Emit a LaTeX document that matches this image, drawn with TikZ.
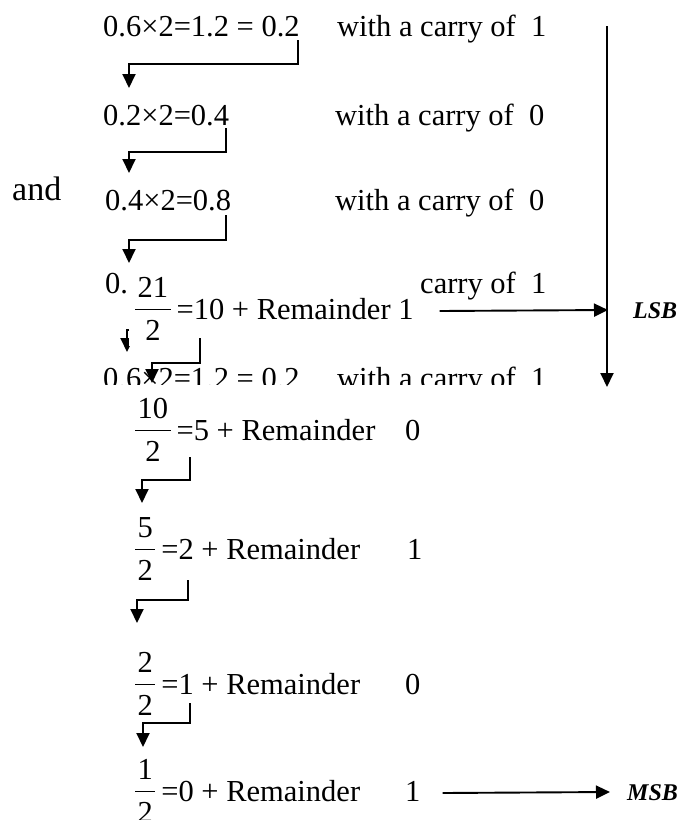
\documentclass[tikz,border=0pt]{standalone}
\usepackage{fontspec}
\setmainfont{Liberation Serif}
\usetikzlibrary{calc,arrows.meta}

\newsavebox\frcnum
\newsavebox\frcden
\newlength\frcw
% stacked fraction in text font
\newcommand{\frc}[2]{%
  \sbox\frcnum{#1}\sbox\frcden{#2}%
  \setlength\frcw{\wd\frcnum}%
  \ifdim\wd\frcden>\frcw \setlength\frcw{\wd\frcden}\fi
  \addtolength\frcw{5pt}%
  \rlap{\makebox[\frcw]{\raisebox{22pt}{\usebox\frcnum}}}%
  \rlap{\makebox[\frcw]{\raisebox{-21pt}{\usebox\frcden}}}%
  \rule[9pt]{\frcw}{1.3pt}\kern6pt}

\begin{document}
\begin{tikzpicture}[
    x=1pt,
    y=-1pt,
    font=\fontsize{30.5}{36}\selectfont,
    >={Triangle[length=14pt,width=13pt]},
    line/.style={
        anchor=base west,
        inner sep=0pt
    },
    paper/.style={
        fill=white,
        inner sep=0pt,
        anchor=north west
    },
    hook/.style={
        ->,
        line width=1.9pt
    },
    arrow/.style={
        ->,
        line width=1.9pt
    },
    tag/.style={
        anchor=base west,
        inner sep=0pt,
        font=\fontsize{24}{28}\selectfont\bfseries\itshape
    }
]
\useasboundingbox (0,0) rectangle (688,820);

% fractional part
\node[line] (f1) at (103,36) {0.6×2=1.2 = 0.2};
\node[line] (c1) at (337,36) {with a carry of\ \ 1};
\node[line] (f2) at (103,125) {0.2×2=0.4};
\node[line] (c2) at (335,125) {with a carry of\ \ 0};
\node[line, font=\fontsize{34}{40}\selectfont] (and) at (12,200) {and};
\node[line] (f3) at (105,210) {0.4×2=0.8};
\node[line] (c3) at (335,210) {with a carry of\ \ 0};
\node[line] (f4) at (105,293) {0.8×2=1.6 = 0.6};
\node[line] (c4) at (337,293) {with a carry of\ \ 1};
\node[line] (f5) at (103,388) {0.6×2=1.2 = 0.2};
\node[line] (c5) at (337,388) {with a carry of\ \ 1};

\draw[hook] ($(f1.base west)+(195,4)$) -- ++(0,24) -| ($(f2.base west)+(26,-37)$);
\draw[hook] ($(f2.base west)+(123,3)$) -- ++(0,24) -| ($(f3.base west)+(24,-37)$);
\draw[hook] ($(f3.base west)+(121,5)$) -- ++(0,25) -| ($(f4.base west)+(24,-30)$);
\draw[hook] ($(f4.base west)+(193,4)$) -- ++(0,33) -| ($(f5.base west)+(24,-36)$);

\coordinate (ctop) at (607,26);
\coordinate (cbot) at (607,387);
\draw[arrow] (ctop) -- (cbot);

% integer part
\node[paper, minimum width=289pt, minimum height=78pt] (pA) at (129,268) {};
\node[line] (dA) at (135,319) {\frc{21}{2}=10 + Remainder 1};
\node[paper, minimum width=465pt, minimum height=440pt] (pB) at (95,385) {};
\node[line] (dB) at (135,440) {\frc{10}{2}=5 + Remainder};
\node[line] (rB) at (405,440) {0};
\node[line] (dC) at (135,559) {\frc{5}{2}=2 + Remainder};
\node[line] (rC) at (407,559) {1};
\node[line] (dD) at (135,694) {\frc{2}{2}=1 + Remainder};
\node[line] (rD) at (405,694) {0};
\node[line] (dE) at (135,801) {\frc{1}{2}=0 + Remainder};
\node[line] (rE) at (405,801) {1};

\draw[hook] ($(dA.base west)+(65,19)$) -- ++(0,25) -| ($(dB.base west)+(17,-57)$);
\draw[hook] ($(dB.base west)+(55,17)$) -- ++(0,23) -| ($(dC.base west)+(7,-56)$);
\draw[hook] ($(dC.base west)+(53,21)$) -- ++(0,20) -| ($(dD.base west)+(2,-71)$);
\draw[hook] ($(dD.base west)+(55,9)$) -- ++(0,20) -| ($(dE.base west)+(8,-54)$);

\node[tag] (lsb) at (633,318) {LSB};
\node[tag] (msb) at (627,800) {MSB};
\draw[arrow] ($(dA.base east)+(26,-8)$) -- ($(lsb.base west)+(-25,-8)$);
\draw[arrow] ($(rE.base east)+(22,-8)$) -- ($(msb.base west)+(-17,-8)$);

\end{tikzpicture}
\end{document}
